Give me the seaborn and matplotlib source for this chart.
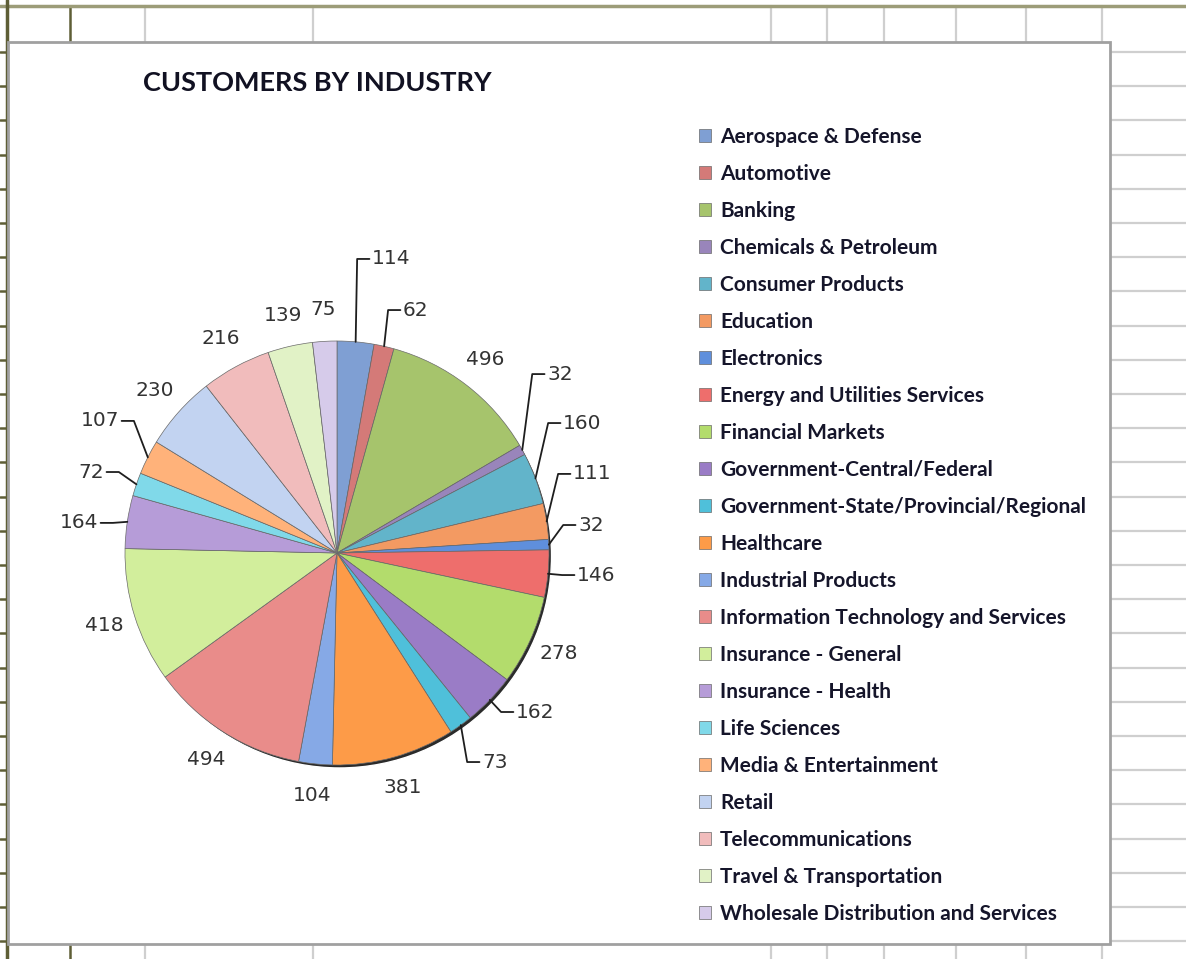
import numpy as np
import matplotlib
matplotlib.use("Agg")
import matplotlib.pyplot as plt
import seaborn as sns
from matplotlib.patches import Rectangle, Circle

industries = [
    "Aerospace & Defense", "Automotive", "Banking", "Chemicals & Petroleum",
    "Consumer Products", "Education", "Electronics", "Energy and Utilities Services",
    "Financial Markets", "Government-Central/Federal",
    "Government-State/Provincial/Regional", "Healthcare", "Industrial Products",
    "Information Technology and Services", "Insurance - General",
    "Insurance - Health", "Life Sciences", "Media & Entertainment", "Retail",
    "Telecommunications", "Travel & Transportation",
    "Wholesale Distribution and Services",
]
customers = [114, 62, 496, 32, 160, 111, 32, 146, 278, 162, 73, 381, 104,
             494, 418, 164, 72, 107, 230, 216, 139, 75]

slice_colors = [
    "#7f9fd3", "#d47a78", "#a6c46c", "#9985bb", "#62b4ca", "#f39a62",
    "#5f8fdc", "#ee6e6c", "#b3dc6c", "#9a7cc6", "#4fc0da", "#fd9b48",
    "#86a9e6", "#e98c8a", "#d2ee9c", "#b69cd8", "#80d9e9", "#ffb27a",
    "#c2d3f1", "#f1bcbc", "#e1f2c6", "#d6cbea",
]

# label placement for the small slices that get leader lines (radius units)
leader_pos = {
    0: (0.165, 1.387, "left"), 1: (0.311, 1.146, "left"),
    3: (0.991, 0.844, "left"), 4: (1.066, 0.613, "left"),
    5: (1.113, 0.373, "left"), 6: (1.137, 0.132, "left"),
    7: (1.132, -0.104, "left"), 9: (0.844, -0.750, "left"),
    10: (0.684, -0.986, "left"), 15: (-1.127, 0.142, "right"),
    16: (-1.099, 0.382, "right"), 17: (-1.028, 0.623, "right"),
}

sns.set_style("white")
W, H = 1186, 959
fig = plt.figure(figsize=(W / 100, H / 100), dpi=100)

# spreadsheet background
bg = fig.add_axes([0, 0, 1, 1])
bg.set_xlim(0, W)
bg.set_ylim(H, 0)
bg.axis("off")
grid_c = "#cfcfcf"
olive = "#5e5e36"
row_y = np.arange(52, H, 34.2)
for y in row_y:
    bg.plot([1110, W], [y, y], color=grid_c, lw=1.6)
    bg.plot([0, 8], [y, y], color=olive, lw=1.8)
col_x = [145, 313, 771, 827, 884, 956, 1026, 1102]
for x in col_x:
    bg.plot([x, x], [6, 42], color=grid_c, lw=1.6)
    bg.plot([x, x], [944, H], color=grid_c, lw=1.6)
bg.plot([70, 70], [6, 42], color=olive, lw=1.8)
bg.plot([70, 70], [944, H], color=olive, lw=1.8)
bg.plot([0, W], [6, 6], color="#9c9c78", lw=2.5)
bg.plot([7, 7], [0, H], color=olive, lw=2.5)
bg.add_patch(Rectangle((8, 42), 1102, 902, facecolor="white",
                       edgecolor="#a0a0a0", lw=2, zorder=3))

bg.text(143, 83, "CUSTOMERS BY INDUSTRY", fontsize=19.5, fontweight="bold",
        family="Lato", color="#111122", va="center", ha="left", zorder=4)

# pie
cx, cy, R, half = 337, 553, 212, 330
ax = fig.add_axes([(cx - half) / W, (H - cy - half) / H, 2 * half / W, 2 * half / H])
ax.axis("off")

ax.add_patch(Circle((0.012, -0.014), 1.0, facecolor="#2b2b2b", zorder=0))
wedges, _ = ax.pie(customers, colors=slice_colors, startangle=90,
                   counterclock=False, radius=1,
                   wedgeprops=dict(edgecolor="#6a6a6a", linewidth=0.5))
lim = half / R
ax.set_xlim(-lim, lim)
ax.set_ylim(-lim, lim)

lab_font = dict(fontsize=14.5, color="#333333", family="DejaVu Sans")
for i, w in enumerate(wedges):
    ang = np.deg2rad((w.theta1 + w.theta2) / 2)
    ex, ey = np.cos(ang), np.sin(ang)
    txt = str(customers[i])
    if i in leader_pos:
        tx, ty, side = leader_pos[i]
        h = 0.07
        gap = 0.012
        if side == "left":
            xs = [ex, tx - h, tx - gap]
        else:
            xs = [ex, tx + h, tx + gap]
        ax.plot(xs, [ey, ty, ty], color="#1e1e1e", lw=1.3, clip_on=False)
        ax.text(tx, ty, txt, ha=side, va="center", clip_on=False, **lab_font)
    else:
        ax.text(1.15 * ex, 1.15 * ey, txt, ha="center", va="center",
                clip_on=False, **lab_font)

leg = fig.legend(wedges, industries, loc="upper left",
                 bbox_to_anchor=(699 / W, 1 - 127 / H), frameon=False,
                 prop=dict(family="Lato", weight="bold", size=15),
                 handlelength=0.58, handleheight=0.58, handletextpad=0.43,
                 labelspacing=0.815, borderpad=0, borderaxespad=0)
for t in leg.get_texts():
    t.set_color("#15152a")

fig.savefig("out.png", dpi=100)
